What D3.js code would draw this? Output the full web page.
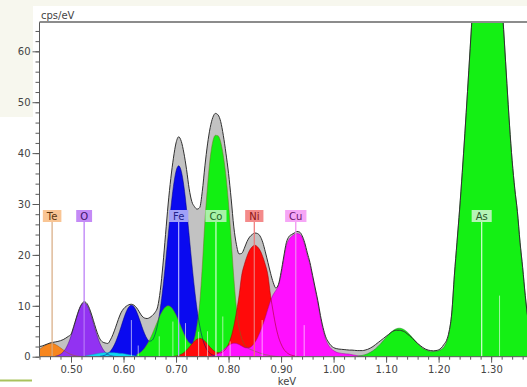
<!DOCTYPE html>
<html>
<head>
<meta charset="utf-8">
<script src="https://cdn.jsdelivr.net/npm/d3@7"></script>
<style>
  html, body { margin: 0; padding: 0; background: #ffffff; }
  svg { display: block; }
  text { font-family: "DejaVu Sans", Verdana, sans-serif; }
</style>
</head>
<body>
<svg id="chart" width="527" height="387"></svg>
<script>
// EDS spectrum, 5 eV channels
const channelWidth = 0.005;

// measured spectrum (cps/eV), channels from 0.430 keV
const spectrumStart = 0.430;
const spectrumCps = [
  1.9, 1.95, 2.0, 2.1, 2.3, 2.5, 2.7, 2.8, 2.9, 3.0,
  3.15, 3.35, 3.65, 4.0, 4.4, 5.9, 7.6, 9.2, 10.3, 10.8,
  10.5, 9.5, 8.0, 6.3, 4.7, 3.5, 2.9, 2.7, 2.6, 3.3,
  4.4, 5.8, 7.3, 8.6, 9.4, 9.9, 10.2, 10.3, 10.1, 9.6,
  8.8, 8.0, 7.6, 7.5, 7.7, 8.1, 8.7, 9.8, 13.0, 18.0,
  24.0, 30.0, 35.0, 39.0, 42.0, 43.2, 42.3, 40.0, 36.8, 33.0,
  30.5, 29.5, 29.0, 29.3, 32.5, 37.5, 41.8, 45.0, 47.0, 47.8,
  47.5, 46.2, 43.5, 40.0, 36.0, 31.0, 25.5, 22.0, 20.2, 20.3,
  21.3, 22.6, 23.5, 24.0, 24.3, 24.2, 23.7, 22.5, 20.6, 18.5,
  16.4, 14.6, 13.5, 14.2, 16.6, 19.6, 22.4, 23.6, 24.0, 24.3,
  24.6, 24.5, 23.8, 22.4, 20.4, 18.5, 16.0, 13.5, 11.0, 8.1,
  5.7, 3.9, 2.9, 2.2, 1.8, 1.6, 1.5, 1.45, 1.4, 1.35,
  1.3, 1.3, 1.25, 1.2, 1.2, 1.2, 1.3, 1.45, 1.7, 2.0,
  2.4, 2.8, 3.2, 3.6, 4.0, 4.4, 4.8, 5.1, 5.2, 5.2,
  5.1, 4.9, 4.5, 4.1, 3.6, 3.1, 2.6, 2.2, 1.8, 1.5,
  1.3, 1.2, 1.15, 1.2, 1.35, 1.7, 2.4, 3.2, 5.0, 8.6,
  16.0, 22.5, 29.0, 36.2, 43.9, 52.1, 60.5, 68.9, 76.7, 83.7,
  89.4, 93.4, 95.6, 95.8, 94.0, 90.3, 84.9, 78.2, 70.5, 62.2,
  53.7, 45.5, 38.5, 33.0, 28.5, 22.5, 17.5, 12.0, 7.5, 5.0
];

// fitted element contributions (cps/eV)
const teStart = 0.430;
const teCps = [0.73, 1.05, 1.42, 1.81, 2.18, 2.45, 2.6, 2.58, 2.4, 2.11,
  1.74, 1.35, 0.98, 0.67, 0.43, 0.26, 0.15, 0.07, 0.04, 0];

const oStart = 0.470;
const oCps = [0.1, 0.23, 0.47, 0.9, 1.61, 2.65, 4.05, 5.73, 7.5, 9.09,
  10.2, 10.6, 10.2, 9.09, 7.5, 5.73, 4.05, 2.65, 1.61, 0.9,
  0.47, 0.23, 0.1, 0.04, 0];

const feStart = 0.555;
const feCps = [0.07, 0.15, 0.31, 0.61, 1.09, 1.84, 2.89, 4.24, 5.79, 7.39,
  8.79, 9.75, 10.1, 9.76, 8.82, 7.45, 5.93, 4.55, 3.52, 3.04,
  3.28, 4.37, 6.4, 9.47, 13.56, 18.43, 23.81, 29.04, 33.47, 36.45,
  37.5, 36.45, 33.47, 29.04, 23.81, 18.43, 13.49, 9.32, 6.09, 3.76,
  2.19, 1.2, 0.63, 0.31, 0.14, 0.06, 0];

const minorStart = 0.520;
const minorCps = [0.05, 0.1, 0.2, 0.3, 0.4, 0.5, 0.6, 0.7, 0.75, 0.8,
  0.8, 0.8, 0.78, 0.75, 0.7, 0.65, 0.6, 0.5, 0.4, 0.3,
  0.2, 0.12, 0.06, 0];

const coStart = 0.625;
const coCps = [0.41, 0.69, 1.09, 1.67, 2.43, 3.38, 4.51, 5.75, 7.02, 8.19,
  9.15, 9.78, 10.0, 9.78, 9.15, 8.19, 7.02, 5.75, 4.51, 3.48,
  2.73, 2.47, 3.59, 6.19, 10.41, 17.74, 26.63, 33.57, 39.03, 42.3,
  43.5, 43.4, 42.2, 39.5, 35.5, 30.0, 23.0, 15.5, 9.5, 5.8,
  3.6, 2.4, 1.8, 1.5, 1.3, 1.1, 0.9, 0.7, 0.55, 0.4,
  0.3, 0.2, 0.12, 0.06, 0];

const niStart = 0.695;
const niCps = [0.06, 0.12, 0.25, 0.47, 0.8, 1.27, 1.85, 2.47, 3.05, 3.45,
  3.6, 3.45, 3.05, 2.47, 1.85, 1.34, 0.95, 0.77, 0.75, 1.02,
  1.56, 2.5, 3.9, 6.0, 8.8, 12.0, 16.0, 18.1, 19.7, 20.9,
  21.6, 21.9, 21.6, 20.9, 19.7, 18.1, 16.0, 12.0, 8.8, 6.0,
  3.9, 2.5, 1.5, 0.9, 0.5, 0.3, 0.15, 0.07, 0];

const cuStart = 0.760;
const cuCps = [0.04, 0.09, 0.18, 0.34, 0.58, 0.92, 1.33, 1.79, 2.2, 2.49,
  2.65, 2.59, 2.4, 2.09, 1.83, 1.72, 1.78, 2.14, 2.78, 3.69,
  4.84, 6.2, 7.7, 9.4, 11.0, 12.2, 13.0, 14.0, 16.0, 19.0,
  21.8, 23.0, 23.6, 24.0, 24.2, 24.1, 23.4, 21.9, 19.8, 18.1,
  15.5, 13.0, 10.5, 7.6, 5.2, 3.4, 2.3, 1.6, 1.2, 0.9,
  0.75, 0.65, 0.6, 0.55, 0.5, 0.4, 0.3, 0.2, 0.1, 0.05, 0];

const asStart = 1.045;
const asCps = [0.1, 0.17, 0.26, 0.4, 0.59, 0.85, 1.17, 1.58, 2.06, 2.6,
  3.19, 3.79, 4.36, 4.87, 5.26, 5.51, 5.6, 5.51, 5.26, 4.87,
  4.36, 3.79, 3.19, 2.6, 2.06, 1.58, 1.37, 1.15, 0.99, 1.0,
  1.06, 1.17, 1.4, 1.86, 2.83, 4.8, 8.5, 16.0, 22.5, 29.0,
  36.2, 43.9, 52.1, 60.5, 68.9, 76.7, 83.7, 89.4, 93.4, 95.6,
  95.8, 94.0, 90.3, 84.9, 78.2, 70.5, 62.2, 53.7, 45.5, 38.5,
  33.0, 28.5, 22.5, 17.5, 12.0, 7.5, 5.0];

// element line markers
const markerLabels = ["Te", "O", "Fe", "Co", "Ni", "Cu", "As"];
const markerEnergies = [0.464, 0.525, 0.705, 0.776, 0.849, 0.928, 1.282];

// secondary line positions (keV) and heights (cps/eV)
const subLineEnergies = [0.615, 0.628, 0.668, 0.694, 0.718, 0.743, 0.760, 0.789, 0.803, 0.864, 0.944, 1.316];
const subLineCps = [7.2, 2.2, 4.0, 6.9, 6.6, 4.9, 5.0, 7.9, 3.0, 7.2, 6.2, 12.0];

// axis ticks
const yTickValues = [0, 10, 20, 30, 40, 50, 60];
const xTickValues = [0.5, 0.6, 0.7, 0.8, 0.9, 1.0, 1.1, 1.2, 1.3];

// ---------------------------------------------------------------
const svg = d3.select("#chart");
const W = 527, H = 387;
const plot = { left: 39.5, right: 527.9, top: 22, bottom: 356.7 };

const x = d3.scaleLinear().domain([0.44, 1.37]).range([plot.left, plot.right]);
const y = d3.scaleLinear().domain([0, 65.76]).range([plot.bottom, plot.top]);

const toPoints = (start, vals) => vals.map((v, i) => [start + i * channelWidth, v]);

// page decoration
svg.append("rect").attr("x", 0).attr("y", 0).attr("width", W).attr("height", 6).attr("fill", "#f7f7ee");
svg.append("rect").attr("x", 0).attr("y", 0).attr("width", 33).attr("height", 117).attr("fill", "#f7f7ee");
svg.append("line").attr("x1", 0).attr("x2", 32).attr("y1", 380.5).attr("y2", 380.5)
  .attr("stroke", "#a9c25c").attr("stroke-width", 2);

svg.append("defs").append("clipPath").attr("id", "plotClip")
  .append("rect").attr("x", plot.left).attr("y", plot.top)
  .attr("width", W - plot.left).attr("height", plot.bottom - plot.top);

const g = svg.append("g").attr("clip-path", "url(#plotClip)");

const area = d3.area().x(d => x(d[0])).y0(y(0)).y1(d => y(d[1])).curve(d3.curveMonotoneX);
const line = d3.line().x(d => x(d[0])).y(d => y(d[1])).curve(d3.curveMonotoneX);

const spectrum = toPoints(spectrumStart, spectrumCps);

// measured spectrum underneath
g.append("path").datum(spectrum).attr("d", area).attr("fill", "#c2c2c2");

const elements = [
  { name: "Te", pts: toPoints(teStart, teCps), fill: "#f7861e", edge: "#a85a10" },
  { name: "O", pts: toPoints(oStart, oCps), fill: "#9232f2", edge: "#4a1080" },
  { name: "Fe", pts: toPoints(feStart, feCps), fill: "#0a0af0", edge: "#000080" },
  { name: "minor", pts: toPoints(minorStart, minorCps), fill: "#10d8f0", edge: "#10a8c0" },
  { name: "Co", pts: toPoints(coStart, coCps), fill: "#12f012", edge: "#6a7a20" },
  { name: "Ni", pts: toPoints(niStart, niCps), fill: "#ff0a0a", edge: "#a00000" },
  { name: "Cu", pts: toPoints(cuStart, cuCps), fill: "#ff10ff", edge: "#a000a0" },
  { name: "As", pts: toPoints(asStart, asCps), fill: "#14f014", edge: "#208020" }
];

g.selectAll("path.fill").data(elements).enter().append("path")
  .attr("class", "fill")
  .attr("d", d => area(d.pts))
  .attr("fill", d => d.fill);

g.selectAll("path.edge").data(elements).enter().append("path")
  .attr("class", "edge")
  .attr("d", d => line(d.pts))
  .attr("fill", "none")
  .attr("stroke", d => d.edge)
  .attr("stroke-width", 0.8)
  .attr("stroke-opacity", 0.65);

// spectrum outline
g.append("path").datum(spectrum).attr("d", line)
  .attr("fill", "none").attr("stroke", "#303030").attr("stroke-width", 1);

// secondary line positions
g.selectAll("line.sub").data(subLineEnergies).enter().append("line")
  .attr("class", "sub")
  .attr("x1", d => x(d)).attr("x2", d => x(d))
  .attr("y1", y(0)).attr("y2", (d, i) => y(subLineCps[i]))
  .attr("stroke", "#ffffff").attr("stroke-opacity", 0.6).attr("stroke-width", 1);

// element markers
const markerStyle = {
  Te: { box: "#f9c594", line: "#d8aa80", text: "#5a3510" },
  O:  { box: "#c48af6", line: "#b676f6", text: "#3a1468" },
  Fe: { box: "#a0a0f8", line: "#b4b4ff", text: "#24248a" },
  Co: { box: "#a8f2a8", line: "#d2ffd2", text: "#1e641e" },
  Ni: { box: "#f48a8a", line: "#f07474", text: "#8a1414" },
  Cu: { box: "#f6a6f6", line: "#f088f0", text: "#6a146a" },
  As: { box: "#b6f4b6", line: "#d6ffd6", text: "#285828" }
};
const boxTop = 210, boxH = 12;
const markers = svg.append("g");
markerLabels.forEach((lab, i) => {
  const cx = x(markerEnergies[i]);
  const st = markerStyle[lab];
  markers.append("line")
    .attr("x1", cx).attr("x2", cx).attr("y1", boxTop + boxH).attr("y2", y(0))
    .attr("stroke", st.line).attr("stroke-width", 1.2);
  const t = markers.append("text")
    .attr("x", cx).attr("y", boxTop + 9.6)
    .attr("text-anchor", "middle").attr("font-size", 10)
    .attr("fill", st.text).text(lab);
  const w = t.node().getComputedTextLength() + 8;
  markers.insert("rect", "text")
    .attr("x", cx - w / 2).attr("y", boxTop).attr("width", w).attr("height", boxH)
    .attr("fill", st.box);
});

// axes
const axisColor = "#5a5a5a";
const yMajor = svg.append("g").attr("transform", `translate(${plot.left},0)`)
  .call(d3.axisLeft(y).tickValues(yTickValues).tickSize(7).tickPadding(2).tickFormat(d3.format("d")));
const yMinor = svg.append("g").attr("transform", `translate(${plot.left},0)`)
  .call(d3.axisLeft(y).tickValues(d3.range(0, 33).map(i => i * 2)).tickSize(4).tickFormat(""));
const xMajor = svg.append("g").attr("transform", `translate(0,${plot.bottom})`)
  .call(d3.axisBottom(x).tickValues(xTickValues).tickSize(6).tickPadding(3).tickFormat(d3.format(".2f")));
const xMinor = svg.append("g").attr("transform", `translate(0,${plot.bottom})`)
  .call(d3.axisBottom(x).tickValues(d3.range(22, 69).map(i => i * 0.02)).tickSize(3).tickFormat(""));

[yMajor, yMinor, xMajor, xMinor].forEach(a => {
  a.select(".domain").remove();
  a.selectAll(".tick line").attr("stroke", axisColor);
  a.selectAll("text").attr("fill", "#444").attr("font-size", 10)
    .attr("font-family", "\"DejaVu Sans\", Verdana, sans-serif");
});

svg.append("line").attr("x1", plot.left).attr("x2", plot.left)
  .attr("y1", plot.top).attr("y2", plot.bottom).attr("stroke", axisColor);
svg.append("line").attr("x1", plot.left).attr("x2", W)
  .attr("y1", plot.bottom).attr("y2", plot.bottom).attr("stroke", axisColor);
svg.append("line").attr("x1", plot.left).attr("x2", W)
  .attr("y1", plot.top).attr("y2", plot.top).attr("stroke", "#8c8c8c").attr("stroke-width", 2);

svg.append("text").attr("x", 41).attr("y", 18.5).attr("font-size", 10).attr("fill", "#444").text("cps/eV");
svg.append("text").attr("x", 287).attr("y", 384.5).attr("text-anchor", "middle")
  .attr("font-size", 10).attr("fill", "#444").text("keV");
</script>
</body>
</html>
